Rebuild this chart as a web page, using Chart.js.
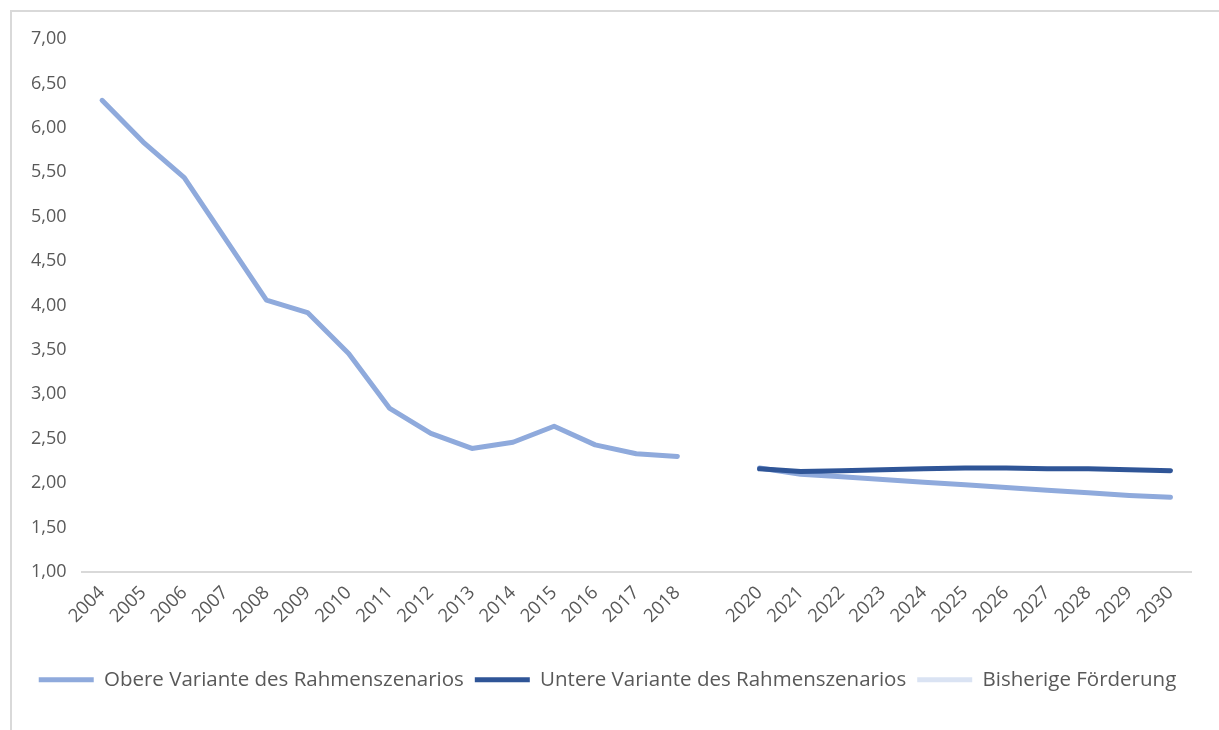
<!DOCTYPE html>
<html lang="de">
<head>
<meta charset="utf-8">
<title>Rahmenszenario</title>
<script src="https://cdn.jsdelivr.net/npm/chart.js@4/dist/chart.umd.min.js"></script>
<style>
  html, body { margin: 0; padding: 0; background: #fff; overflow: hidden; }
  .frame {
    position: absolute; left: 10px; top: 10px;
    width: 1240px; height: 760px;
    border: 2px solid #d9d9d9; box-sizing: border-box;
  }
  .wrap { position: absolute; left: 0; top: 0; width: 1219px; height: 730px; }
</style>
</head>
<body>
<div class="frame"></div>
<div class="wrap"><canvas id="lineChart"></canvas></div>
<script>
const years = ['2004', '2005', '2006', '2007', '2008', '2009', '2010', '2011', '2012', '2013',
  '2014', '2015', '2016', '2017', '2018', '', '2020', '2021', '2022', '2023', '2024', '2025',
  '2026', '2027', '2028', '2029', '2030'];

const obereVariante = [6.31, 5.84, 5.44, 4.75, 4.06, 3.92, 3.46, 2.84, 2.56, 2.39,
  2.46, 2.64, 2.43, 2.33, 2.30, null, 2.17, 2.10, 2.07, 2.04, 2.01, 1.98,
  1.95, 1.92, 1.89, 1.86, 1.84];

const untereVariante = [null, null, null, null, null, null, null, null, null, null,
  null, null, null, null, null, null, 2.16, 2.13, 2.14, 2.15, 2.16, 2.17,
  2.17, 2.16, 2.16, 2.15, 2.14];

const bisherigeFoerderung = years.map(() => null);

const yTicks = { min: 1, max: 7, step: 0.5 };

const FONT = '"Open Sans", sans-serif';
const TEXT = '#595959';

document.addEventListener('DOMContentLoaded', () => {
  const ctx = document.getElementById('lineChart').getContext('2d');
  new Chart(ctx, {
    type: 'line',
    data: {
      labels: years,
      datasets: [
        {
          label: 'Obere Variante des Rahmenszenarios',
          data: obereVariante,
          borderColor: '#8faadc',
          backgroundColor: '#8faadc',
          order: 2
        },
        {
          label: 'Untere Variante des Rahmenszenarios',
          data: untereVariante,
          borderColor: '#2f5597',
          backgroundColor: '#2f5597',
          order: 1
        },
        {
          label: 'Bisherige Förderung',
          data: bisherigeFoerderung,
          borderColor: '#dae3f3',
          backgroundColor: '#dae3f3',
          order: 3
        }
      ]
    },
    options: {
      responsive: true,
      maintainAspectRatio: false,
      animation: false,
      elements: {
        line: { borderWidth: 5, tension: 0, borderCapStyle: 'round', borderJoinStyle: 'round' },
        point: { radius: 0, hoverRadius: 0 }
      },
      layout: { padding: { left: 24, right: 28, top: 39, bottom: 30 } },
      plugins: {
        tooltip: { enabled: false },
        legend: {
          position: 'bottom',
          labels: {
            font: { family: FONT, size: 20.5 },
            color: TEXT,
            boxWidth: 55,
            boxHeight: 5,
            useBorderRadius: true,
            borderRadius: 2.5,
            padding: 11,
            generateLabels: (chart) => chart.data.datasets.map((ds, i) => ({
              text: ds.label,
              fillStyle: ds.borderColor,
              strokeStyle: ds.borderColor,
              lineWidth: 0,
              fontColor: TEXT,
              datasetIndex: i
            }))
          }
        }
      },
      scales: {
        x: {
          offset: true,
          grid: { display: false },
          border: { display: true, color: '#d9d9d9', width: 2 },
          afterFit: (scale) => { scale.height += 29; },
          ticks: {
            color: TEXT,
            font: { family: FONT, size: 18.5 },
            maxRotation: 45,
            minRotation: 45,
            autoSkip: false,
            padding: 2
          }
        },
        y: {
          min: yTicks.min,
          max: yTicks.max,
          grid: { display: false },
          border: { display: false },
          ticks: {
            stepSize: yTicks.step,
            color: TEXT,
            font: { family: FONT, size: 18 },
            padding: 7,
            callback: (v) => v.toLocaleString('de-DE', { minimumFractionDigits: 2, maximumFractionDigits: 2 })
          }
        }
      }
    }
  });
});
</script>
</body>
</html>
